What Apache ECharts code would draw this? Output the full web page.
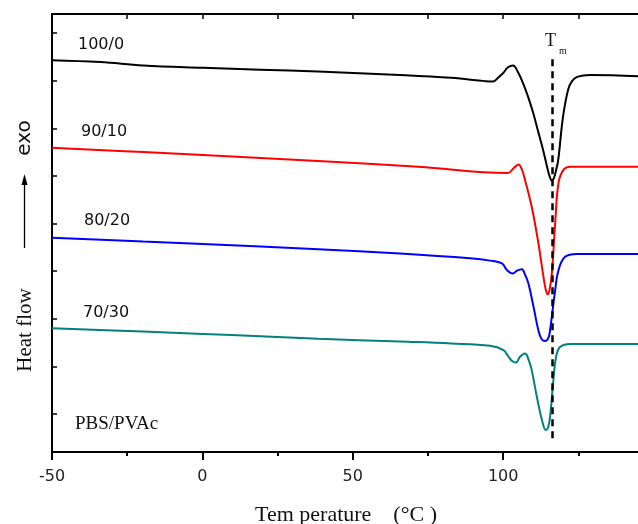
<!DOCTYPE html>
<html>
<head>
<meta charset="utf-8">
<script src="https://cdn.jsdelivr.net/npm/echarts@6/dist/echarts.min.js"></script>
<style>html,body{margin:0;padding:0;background:#fff;}#c{width:638px;height:524px;}</style>
</head>
<body>
<div id="c"></div>
<script>
// Temperature (°C) / heat flow (arbitrary units, offset curves)
const T100 = [-50,-34,-19.7,0.2,19.2,38.5,65.7,82.7,94,96.7,98.3,100,101.6,103.3,104.9,106.6,108.3,110,111.6,113.3,114.6,115.5,116.2,116.9,117.6,118.3,119.9,121.6,122.9,124.6,128.9,145];
const H100 = [8.23,8.19,8.12,8.07,8.03,7.99,7.92,7.86,7.79,7.78,7.86,7.96,8.08,8.12,7.98,7.75,7.46,7.12,6.74,6.34,5.99,5.78,5.70,5.76,5.92,6.13,7.04,7.61,7.79,7.88,7.92,7.89];

const T90 = [-50,-19.7,0.2,38.5,71.8,101.6,103.3,105.1,106.3,107.3,109.5,111.7,113.4,114.2,114.8,115.4,116.2,117.3,118.4,120,122.3,145];
const H90 = [6.39,6.30,6.24,6.11,5.99,5.86,5.95,6.04,5.92,5.71,5.15,4.39,3.68,3.40,3.31,3.40,3.76,4.81,5.65,5.92,5.99,5.99];

const T80 = [-50,-19.7,0.2,38.5,65.7,89,95.7,99.6,101.3,103.2,104.6,106.2,107.3,108.4,110.1,111.7,112.8,114,115,115.6,117.3,118.4,120.6,124.5,145];
const H80 = [4.50,4.42,4.37,4.26,4.17,4.07,4.02,3.96,3.82,3.75,3.81,3.84,3.72,3.54,3.05,2.56,2.37,2.33,2.39,2.56,3.40,3.82,4.10,4.16,4.16];

const T70 = [-50,-19.7,0.2,19.2,38.5,65.7,82.7,95.7,100.1,101.6,103,104.3,105.6,107.3,108.5,109.5,111.2,112.9,114.2,115,115.6,116.7,117.6,119,122.3,145];
const H70 = [2.60,2.53,2.48,2.43,2.38,2.32,2.28,2.23,2.14,2.02,1.91,1.88,2.00,2.07,1.93,1.72,1.16,0.67,0.46,0.53,0.74,1.51,2.00,2.21,2.27,2.27];

const seriesNames = ['100/0','90/10','80/20','70/30'];
const seriesColors = ['#000000','#ff0000','#0000ff','#008080'];
const Tm = 116.3;
const TmRange = [0.29, 8.26];
const xTicks = [-50, 0, 50, 100];
const yTicks = [0.8,1.8,2.8,3.8,4.8,5.8,6.8,7.8,8.8];

const Ts = [T100, T90, T80, T70];
const Hs = [H100, H90, H80, H70];

const chart = echarts.init(document.getElementById('c'), null, {renderer:'canvas'});

const series = Ts.map((t, i) => ({
  name: seriesNames[i],
  type: 'line',
  data: t.map((x, j) => [x, Hs[i][j]]),
  showSymbol: false,
  smooth: 0.4,
  lineStyle: {color: seriesColors[i], width: 2},
  itemStyle: {color: seriesColors[i]},
  z: 3,
  silent: true
}));

series.push({
  type: 'line',
  data: [],
  markLine: {
    silent: true,
    symbol: ['none','none'],
    label: {show: false},
    lineStyle: {color: '#000', width: 2.5, type: [7,5]},
    data: [[{coord: [Tm, TmRange[0]]}, {coord: [Tm, TmRange[1]]}]]
  },
  z: 4
});

const axisLine = {show: true, onZero: false, lineStyle: {color: '#000', width: 2}};

chart.setOption({
  animation: false,
  backgroundColor: '#fff',
  grid: {left: 52, top: 14, right: -2, bottom: 72, containLabel: false, outerBoundsMode: 'none'},
  xAxis: [{
    type: 'value', min: -50, max: 145.5, interval: 50, position: 'bottom',
    axisLine: axisLine,
    axisTick: {show: true, inside: false, length: 8, lineStyle: {color: '#000', width: 2}},
    minorTick: {show: true, splitNumber: 2, length: 4, lineStyle: {color: '#000', width: 2}},
    splitLine: {show: false},
    axisLabel: {show: true, customValues: xTicks, color: '#222', fontFamily: 'DejaVu Sans', fontSize: 16, margin: 17},
    name: 'Tem perature    (\u00B0C )',
    nameLocation: 'middle', nameGap: 52,
    nameTextStyle: {fontFamily: 'Liberation Serif', fontSize: 22, color: '#111'}
  }, {
    type: 'value', min: -50, max: 145.5, interval: 25, position: 'top',
    axisLine: axisLine,
    axisTick: {show: true, inside: true, length: 5, lineStyle: {color: '#000', width: 1.5}},
    axisLabel: {show: false}, splitLine: {show: false}
  }],
  yAxis: [{
    type: 'value', min: 0, max: 9.2, position: 'left',
    axisLine: axisLine,
    axisTick: {show: true, inside: true, length: 5, customValues: yTicks, lineStyle: {color: '#000', width: 1.5}},
    axisLabel: {show: false}, splitLine: {show: false}
  }],
  graphic: [
    {type: 'text', left: 78, top: 37, style: {text: seriesNames[0], font: '16px "DejaVu Sans"', fill: '#111'}},
    {type: 'text', left: 81, top: 124, style: {text: seriesNames[1], font: '16px "DejaVu Sans"', fill: '#111'}},
    {type: 'text', left: 84, top: 213, style: {text: seriesNames[2], font: '16px "DejaVu Sans"', fill: '#111'}},
    {type: 'text', left: 83, top: 305, style: {text: seriesNames[3], font: '16px "DejaVu Sans"', fill: '#111'}},
    {type: 'text', left: 75, top: 415, style: {text: 'PBS/PVAc', font: '19px "Liberation Serif"', fill: '#111'}},
    {type: 'text', left: 545, top: 32, style: {text: 'T', font: '18px "Liberation Serif"', fill: '#111'}},
    {type: 'text', left: 559, top: 46, style: {text: 'm', font: '10px "Liberation Serif"', fill: '#111'}},
    {type: 'text', x: 25, y: 138, rotation: Math.PI/2, style: {text: 'exo', font: '20px "DejaVu Sans"', fill: '#111', align: 'center', verticalAlign: 'middle'}},
    {type: 'text', x: 25, y: 330, rotation: Math.PI/2, style: {text: 'Heat flow', font: '21px "Liberation Serif"', fill: '#111', align: 'center', verticalAlign: 'middle'}},
    {type: 'line', shape: {x1: 24.5, y1: 248, x2: 24.5, y2: 184}, style: {stroke: '#000', lineWidth: 1.3}},
    {type: 'polygon', shape: {points: [[24.5, 174], [21.5, 185], [27.5, 185]]}, style: {fill: '#000'}}
  ],
  series: series
});
</script>
</body>
</html>
